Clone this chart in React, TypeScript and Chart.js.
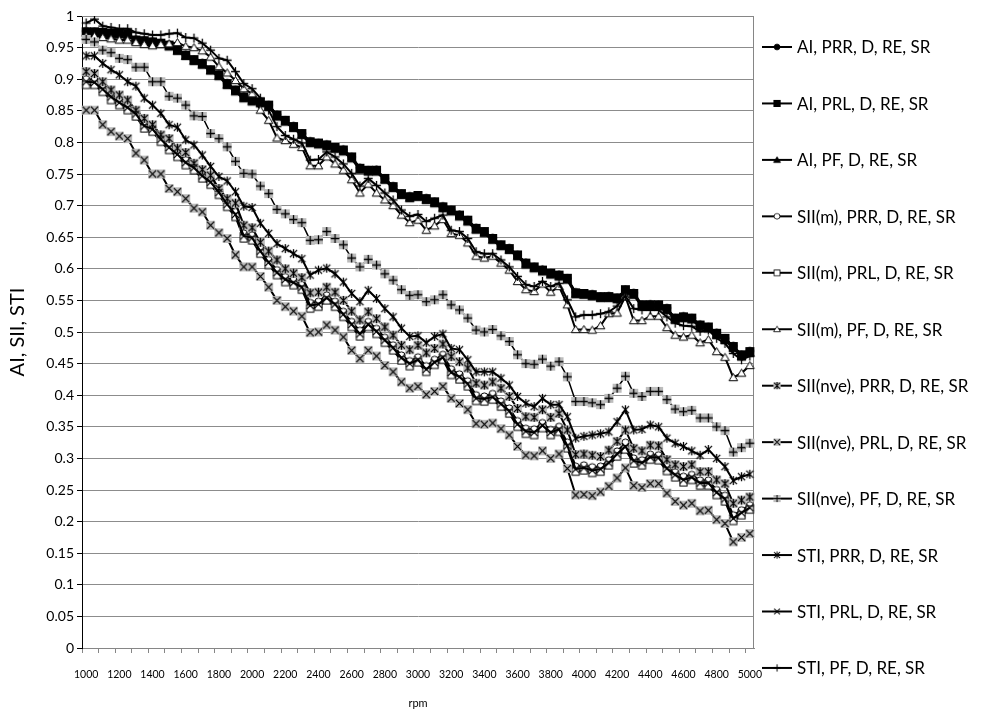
import React, { useEffect, useRef } from 'react';
import { Chart, registerables } from 'chart.js';

Chart.register(...registerables);

// ---------- data ----------
const rpm = [
  1000, 1050, 1100, 1150, 1200, 1250, 1300, 1350, 1400, 1450, 1500, 1550, 1600, 1650, 1700, 1750, 1800, 1850, 1900, 1950,
  2000, 2050, 2100, 2150, 2200, 2250, 2300, 2350, 2400, 2450, 2500, 2550, 2600, 2650, 2700, 2750, 2800, 2850, 2900, 2950,
  3000, 3050, 3100, 3150, 3200, 3250, 3300, 3350, 3400, 3450, 3500, 3550, 3600, 3650, 3700, 3750, 3800, 3850, 3900, 3950,
  4000, 4050, 4100, 4150, 4200, 4250, 4300, 4350, 4400, 4450, 4500, 4550, 4600, 4650, 4700, 4750, 4800, 4850, 4900, 4950,
  5000,
];

const xTickLabels = [
  '1000', '1200', '1400', '1600', '1800', '2000', '2200', '2400', '2600', '2800', '3000',
  '3200', '3400', '3600', '3800', '4000', '4200', '4400', '4600', '4800', '5000',
];

const yTickLabels = [
  '0', '0.05', '0.1', '0.15', '0.2', '0.25', '0.3', '0.35', '0.4', '0.45', '0.5',
  '0.55', '0.6', '0.65', '0.7', '0.75', '0.8', '0.85', '0.9', '0.95', '1',
];

const seriesNames = [
  'AI, PRR, D, RE, SR',
  'AI, PRL, D, RE, SR',
  'AI, PF, D, RE, SR',
  'SII(m), PRR, D, RE, SR',
  'SII(m), PRL, D, RE, SR',
  'SII(m), PF, D, RE, SR',
  'SII(nve), PRR, D, RE, SR',
  'SII(nve), PRL, D, RE, SR',
  'SII(nve), PF, D, RE, SR',
  'STI, PRR, D, RE, SR',
  'STI, PRL, D, RE, SR',
  'STI, PF, D, RE, SR',
];

const aiPrr = [
  0.976, 0.975, 0.975, 0.974, 0.973, 0.972, 0.963, 0.961, 0.960, 0.957, 0.955, 0.947, 0.939, 0.931, 0.926, 0.915, 0.908, 0.894, 0.883, 0.873, 0.867,
  0.865, 0.859, 0.844, 0.835, 0.826, 0.814, 0.802, 0.799, 0.797, 0.792, 0.789, 0.777, 0.760, 0.756, 0.757, 0.743, 0.731, 0.719, 0.715, 0.716,
  0.712, 0.706, 0.699, 0.693, 0.686, 0.677, 0.665, 0.659, 0.649, 0.638, 0.633, 0.622, 0.610, 0.603, 0.599, 0.593, 0.591, 0.585, 0.563, 0.561,
  0.560, 0.556, 0.557, 0.554, 0.567, 0.562, 0.543, 0.544, 0.543, 0.538, 0.522, 0.525, 0.522, 0.512, 0.508, 0.499, 0.490, 0.478, 0.464, 0.470,
];

const aiPrl = [
  0.975, 0.975, 0.974, 0.973, 0.973, 0.972, 0.962, 0.961, 0.959, 0.957, 0.954, 0.947, 0.938, 0.931, 0.925, 0.915, 0.907, 0.893, 0.883, 0.872, 0.867,
  0.864, 0.859, 0.843, 0.835, 0.825, 0.814, 0.801, 0.799, 0.796, 0.792, 0.788, 0.777, 0.759, 0.756, 0.756, 0.743, 0.730, 0.719, 0.714, 0.716,
  0.711, 0.706, 0.698, 0.693, 0.685, 0.677, 0.664, 0.659, 0.648, 0.638, 0.632, 0.622, 0.609, 0.603, 0.598, 0.593, 0.590, 0.585, 0.562, 0.561,
  0.559, 0.556, 0.556, 0.554, 0.567, 0.561, 0.543, 0.543, 0.543, 0.537, 0.522, 0.524, 0.522, 0.511, 0.508, 0.498, 0.490, 0.477, 0.464, 0.469,
];

const aiPf = [
  0.973, 0.972, 0.972, 0.970, 0.970, 0.969, 0.960, 0.958, 0.956, 0.955, 0.951, 0.944, 0.936, 0.928, 0.922, 0.913, 0.904, 0.890, 0.880, 0.869, 0.864,
  0.861, 0.856, 0.840, 0.832, 0.822, 0.811, 0.798, 0.796, 0.793, 0.789, 0.785, 0.774, 0.756, 0.753, 0.753, 0.740, 0.727, 0.716, 0.711, 0.713,
  0.708, 0.703, 0.695, 0.690, 0.682, 0.674, 0.661, 0.656, 0.645, 0.635, 0.629, 0.619, 0.606, 0.600, 0.595, 0.590, 0.587, 0.582, 0.559, 0.558,
  0.556, 0.553, 0.553, 0.551, 0.564, 0.558, 0.540, 0.540, 0.540, 0.534, 0.519, 0.521, 0.519, 0.508, 0.505, 0.495, 0.487, 0.474, 0.461, 0.466,
];

const siiMPrr = [
  0.900, 0.899, 0.889, 0.876, 0.867, 0.859, 0.848, 0.830, 0.824, 0.808, 0.796, 0.784, 0.772, 0.763, 0.751, 0.740, 0.724, 0.706, 0.690, 0.656, 0.653,
  0.632, 0.614, 0.598, 0.587, 0.582, 0.575, 0.546, 0.548, 0.558, 0.548, 0.532, 0.516, 0.502, 0.516, 0.505, 0.491, 0.479, 0.463, 0.454, 0.460,
  0.446, 0.456, 0.464, 0.441, 0.433, 0.422, 0.400, 0.398, 0.402, 0.390, 0.379, 0.359, 0.347, 0.346, 0.356, 0.345, 0.350, 0.325, 0.287, 0.289,
  0.286, 0.287, 0.297, 0.311, 0.325, 0.300, 0.297, 0.306, 0.305, 0.287, 0.278, 0.271, 0.274, 0.265, 0.265, 0.250, 0.241, 0.210, 0.218, 0.226,
];

const siiMPrl = [
  0.891, 0.891, 0.880, 0.867, 0.859, 0.851, 0.841, 0.822, 0.817, 0.801, 0.788, 0.777, 0.764, 0.756, 0.743, 0.733, 0.717, 0.698, 0.682, 0.648, 0.645,
  0.624, 0.606, 0.590, 0.579, 0.574, 0.567, 0.537, 0.540, 0.550, 0.540, 0.524, 0.508, 0.493, 0.508, 0.497, 0.483, 0.471, 0.455, 0.446, 0.452,
  0.437, 0.448, 0.456, 0.432, 0.425, 0.414, 0.391, 0.390, 0.393, 0.382, 0.371, 0.350, 0.339, 0.337, 0.348, 0.337, 0.342, 0.316, 0.279, 0.281,
  0.277, 0.279, 0.289, 0.303, 0.314, 0.292, 0.289, 0.298, 0.297, 0.280, 0.270, 0.262, 0.266, 0.257, 0.257, 0.242, 0.232, 0.201, 0.210, 0.219,
];

const siiMPf = [
  0.968, 0.968, 0.966, 0.964, 0.962, 0.962, 0.958, 0.955, 0.953, 0.955, 0.956, 0.958, 0.952, 0.950, 0.945, 0.935, 0.920, 0.910, 0.898, 0.885, 0.877,
  0.851, 0.835, 0.807, 0.803, 0.797, 0.792, 0.763, 0.763, 0.777, 0.766, 0.756, 0.741, 0.720, 0.734, 0.720, 0.709, 0.700, 0.685, 0.673, 0.677,
  0.661, 0.668, 0.678, 0.656, 0.653, 0.641, 0.620, 0.617, 0.620, 0.609, 0.598, 0.580, 0.567, 0.564, 0.576, 0.563, 0.572, 0.543, 0.504, 0.504,
  0.503, 0.510, 0.529, 0.530, 0.556, 0.518, 0.518, 0.525, 0.525, 0.507, 0.495, 0.492, 0.495, 0.483, 0.488, 0.469, 0.460, 0.428, 0.435, 0.447,
];

const siiNvePrr = [
  0.912, 0.909, 0.896, 0.883, 0.875, 0.867, 0.851, 0.838, 0.828, 0.812, 0.806, 0.791, 0.784, 0.767, 0.757, 0.748, 0.727, 0.711, 0.704, 0.669, 0.665,
  0.642, 0.628, 0.614, 0.600, 0.593, 0.586, 0.562, 0.563, 0.571, 0.563, 0.550, 0.533, 0.519, 0.532, 0.521, 0.508, 0.495, 0.479, 0.472, 0.479,
  0.467, 0.474, 0.481, 0.461, 0.453, 0.443, 0.419, 0.416, 0.421, 0.411, 0.398, 0.379, 0.366, 0.365, 0.377, 0.365, 0.371, 0.345, 0.306, 0.307,
  0.305, 0.303, 0.313, 0.327, 0.345, 0.316, 0.312, 0.321, 0.320, 0.298, 0.290, 0.287, 0.290, 0.279, 0.279, 0.266, 0.260, 0.229, 0.234, 0.239,
];

const siiNvePrl = [
  0.851, 0.851, 0.828, 0.817, 0.810, 0.806, 0.783, 0.772, 0.750, 0.750, 0.727, 0.722, 0.711, 0.696, 0.690, 0.669, 0.657, 0.648, 0.622, 0.603, 0.603,
  0.588, 0.571, 0.550, 0.540, 0.533, 0.525, 0.499, 0.500, 0.511, 0.503, 0.492, 0.471, 0.458, 0.471, 0.462, 0.447, 0.437, 0.421, 0.411, 0.414,
  0.401, 0.406, 0.414, 0.395, 0.387, 0.377, 0.355, 0.354, 0.356, 0.347, 0.337, 0.319, 0.305, 0.304, 0.312, 0.300, 0.307, 0.284, 0.242, 0.243,
  0.241, 0.247, 0.256, 0.269, 0.285, 0.257, 0.254, 0.260, 0.260, 0.245, 0.232, 0.226, 0.229, 0.217, 0.218, 0.203, 0.197, 0.168, 0.175, 0.181,
];

const siiNvePf = [
  0.963, 0.959, 0.946, 0.942, 0.933, 0.931, 0.919, 0.919, 0.896, 0.896, 0.873, 0.870, 0.859, 0.842, 0.841, 0.814, 0.806, 0.793, 0.770, 0.751, 0.750,
  0.731, 0.719, 0.694, 0.687, 0.678, 0.673, 0.645, 0.646, 0.659, 0.648, 0.638, 0.617, 0.603, 0.615, 0.606, 0.592, 0.582, 0.567, 0.558, 0.559,
  0.548, 0.551, 0.559, 0.543, 0.535, 0.522, 0.503, 0.500, 0.504, 0.494, 0.485, 0.464, 0.450, 0.449, 0.457, 0.446, 0.453, 0.429, 0.390, 0.390,
  0.388, 0.385, 0.395, 0.411, 0.430, 0.403, 0.398, 0.406, 0.406, 0.393, 0.378, 0.374, 0.376, 0.364, 0.364, 0.350, 0.344, 0.310, 0.317, 0.324,
];

const stiPrr = [
  0.937, 0.937, 0.925, 0.915, 0.907, 0.896, 0.889, 0.870, 0.859, 0.846, 0.828, 0.824, 0.804, 0.796, 0.780, 0.762, 0.746, 0.739, 0.722, 0.699, 0.697,
  0.672, 0.656, 0.640, 0.632, 0.624, 0.616, 0.590, 0.598, 0.601, 0.592, 0.579, 0.561, 0.548, 0.566, 0.553, 0.537, 0.524, 0.506, 0.493, 0.494,
  0.483, 0.493, 0.497, 0.474, 0.472, 0.456, 0.437, 0.437, 0.437, 0.427, 0.416, 0.398, 0.387, 0.382, 0.395, 0.385, 0.385, 0.366, 0.332, 0.335,
  0.337, 0.339, 0.342, 0.358, 0.377, 0.345, 0.346, 0.353, 0.350, 0.332, 0.324, 0.319, 0.312, 0.305, 0.314, 0.300, 0.287, 0.265, 0.271, 0.275,
];

const stiPrl = [
  0.896, 0.895, 0.884, 0.872, 0.863, 0.855, 0.845, 0.826, 0.821, 0.805, 0.792, 0.781, 0.768, 0.760, 0.747, 0.737, 0.721, 0.702, 0.686, 0.652, 0.649,
  0.628, 0.610, 0.594, 0.583, 0.578, 0.571, 0.542, 0.544, 0.554, 0.544, 0.528, 0.512, 0.497, 0.512, 0.501, 0.487, 0.475, 0.459, 0.450, 0.456,
  0.441, 0.452, 0.460, 0.436, 0.429, 0.418, 0.395, 0.394, 0.397, 0.386, 0.375, 0.354, 0.343, 0.341, 0.352, 0.341, 0.346, 0.320, 0.283, 0.285,
  0.281, 0.283, 0.293, 0.307, 0.319, 0.296, 0.293, 0.302, 0.301, 0.284, 0.274, 0.266, 0.270, 0.261, 0.261, 0.246, 0.236, 0.205, 0.214, 0.222,
];

const stiPf = [
  0.989, 0.995, 0.984, 0.982, 0.980, 0.980, 0.974, 0.972, 0.970, 0.970, 0.972, 0.973, 0.966, 0.965, 0.957, 0.946, 0.933, 0.930, 0.912, 0.893, 0.885,
  0.870, 0.851, 0.825, 0.811, 0.805, 0.799, 0.772, 0.773, 0.785, 0.777, 0.766, 0.751, 0.731, 0.743, 0.732, 0.720, 0.709, 0.693, 0.683, 0.686,
  0.675, 0.680, 0.685, 0.661, 0.659, 0.648, 0.627, 0.624, 0.624, 0.614, 0.603, 0.588, 0.575, 0.572, 0.580, 0.572, 0.577, 0.551, 0.524, 0.527,
  0.527, 0.529, 0.532, 0.541, 0.557, 0.537, 0.535, 0.535, 0.535, 0.524, 0.514, 0.510, 0.509, 0.501, 0.503, 0.490, 0.482, 0.466, 0.456, 0.462,
];

const seriesValues = [
  aiPrr, aiPrl, aiPf, siiMPrr, siiMPrl, siiMPf,
  siiNvePrr, siiNvePrl, siiNvePf, stiPrr, stiPrl, stiPf,
];

// marker kind and fill for each series (style, not data)
const markerKinds = ['circle', 'square', 'triangle', 'circle', 'square', 'triangle', 'star', 'x', 'plus', 'star', 'x', 'plus'];
const markerFills = ['black', 'black', 'black', 'white', 'white', 'white', 'gray', 'gray', 'gray', 'none', 'none', 'none'];

const FONT = 'Lato';
const GRAY_FILL = '#bdbdbd';

function makeMarker(kind: string, fill: string): HTMLCanvasElement {
  const s = 13;
  const c = document.createElement('canvas');
  c.width = s;
  c.height = s;
  const g = c.getContext('2d') as CanvasRenderingContext2D;
  const m = s / 2;
  g.strokeStyle = '#000';
  g.lineWidth = 1;
  if (kind === 'circle') {
    g.beginPath();
    g.arc(m, m, 3.6, 0, Math.PI * 2);
    g.fillStyle = fill === 'black' ? '#000' : '#fff';
    g.fill();
    g.stroke();
  } else if (kind === 'square') {
    const h = fill === 'black' ? 4 : 3.6;
    g.fillStyle = fill === 'black' ? '#000' : '#fff';
    g.fillRect(m - h, m - h, 2 * h, 2 * h);
    g.strokeRect(m - h, m - h, 2 * h, 2 * h);
  } else if (kind === 'triangle') {
    g.beginPath();
    g.moveTo(m, m - 4);
    g.lineTo(m + 4.3, m + 3.2);
    g.lineTo(m - 4.3, m + 3.2);
    g.closePath();
    g.fillStyle = fill === 'black' ? '#000' : '#fff';
    g.fill();
    g.stroke();
  } else {
    if (fill === 'gray') {
      g.fillStyle = GRAY_FILL;
      g.fillRect(m - 4.5, m - 4.5, 9, 9);
    }
    g.lineWidth = 1.3;
    const r = 3.6;
    g.beginPath();
    if (kind === 'x' || kind === 'star') {
      g.moveTo(m - r, m - r);
      g.lineTo(m + r, m + r);
      g.moveTo(m + r, m - r);
      g.lineTo(m - r, m + r);
    }
    if (kind === 'star' || kind === 'plus') {
      g.moveTo(m, m - r - 0.8);
      g.lineTo(m, m + r + 0.8);
    }
    if (kind === 'plus') {
      g.moveTo(m - r - 0.8, m);
      g.lineTo(m + r + 0.8, m);
    }
    g.stroke();
  }
  return c;
}

// layout constants
const CHART_LEFT = 82;
const CHART_TOP = 16;
const CHART_RIGHT = 754;
const CHART_BOTTOM = 648;
const LEGEND_LINE_X0 = 762;
const LEGEND_LINE_X1 = 792;
const LEGEND_TEXT_X = 797;
const LEGEND_Y0 = 47;
const LEGEND_STEP = 56.45;

export default function App() {
  const canvasRef = useRef<HTMLCanvasElement | null>(null);

  useEffect(() => {
    const canvas = canvasRef.current;
    if (!canvas) return;
    const markers = markerKinds.map((k, i) => makeMarker(k, markerFills[i]));

    const plotBorder = {
      id: 'plotBorder',
      beforeDatasetsDraw(chart: any) {
        const { ctx, chartArea } = chart;
        ctx.save();
        ctx.strokeStyle = '#868686';
        ctx.lineWidth = 1;
        ctx.beginPath();
        ctx.moveTo(chartArea.left, chartArea.top + 0.5);
        ctx.lineTo(chartArea.right - 0.5, chartArea.top + 0.5);
        ctx.lineTo(chartArea.right - 0.5, chartArea.bottom);
        ctx.stroke();
        ctx.restore();
      },
    };

    const excelLegend = {
      id: 'excelLegend',
      afterDraw(chart: any) {
        const ctx = chart.ctx as CanvasRenderingContext2D;
        ctx.save();
        ctx.font = `17px ${FONT}`;
        ctx.textBaseline = 'middle';
        ctx.textAlign = 'left';
        ctx.fillStyle = '#000';
        chart.data.datasets.forEach((ds: any, i: number) => {
          const y = LEGEND_Y0 + i * LEGEND_STEP;
          ctx.strokeStyle = '#000';
          ctx.lineWidth = 2;
          ctx.beginPath();
          ctx.moveTo(LEGEND_LINE_X0, y);
          ctx.lineTo(LEGEND_LINE_X1, y);
          ctx.stroke();
          const mk = markers[i];
          const sc = 0.8;
          const cx = (LEGEND_LINE_X0 + LEGEND_LINE_X1) / 2;
          ctx.drawImage(mk, cx - (mk.width * sc) / 2, y - (mk.height * sc) / 2, mk.width * sc, mk.height * sc);
          ctx.fillText(ds.label, LEGEND_TEXT_X, y + 1);
        });
        ctx.restore();
      },
    };

    const chart = new Chart(canvas, {
      type: 'line',
      data: {
        labels: rpm.map(String),
        datasets: seriesNames.map((name, i) => ({
          label: name,
          data: seriesValues[i],
          borderColor: '#000',
          backgroundColor: '#000',
          borderWidth: i === 8 ? 1.5 : 2,
          pointStyle: markers[i] as any,
          pointRadius: 4,
          pointHoverRadius: 4,
          tension: 0,
          fill: false,
          order: seriesNames.length - i,
        })),
      },
      options: {
        responsive: false,
        animation: false,
        devicePixelRatio: 1,
        layout: {
          padding: { left: 0, top: CHART_TOP, right: 1000 - CHART_RIGHT, bottom: 0 },
        },
        plugins: {
          legend: { display: false },
          tooltip: { enabled: false },
        },
        scales: {
          x: {
            type: 'category',
            offset: true,
            grid: {
              offset: true,
              drawOnChartArea: false,
              drawTicks: true,
              tickLength: 5,
              tickColor: (ctx: any) => (ctx.index !== undefined && ctx.index % 2 === 0 ? '#868686' : 'rgba(0,0,0,0)'),
            },
            border: { color: '#868686', width: 1 },
            ticks: {
              autoSkip: false,
              maxRotation: 0,
              minRotation: 0,
              padding: 15,
              color: '#000',
              font: { family: FONT, size: 10.5 },
              callback: (_v: any, index: number) => {
                const lab = String(rpm[index]);
                return xTickLabels.includes(lab) ? lab : '';
              },
            },
            title: {
              display: true,
              text: 'rpm',
              color: '#000',
              font: { family: FONT, size: 11 },
              padding: { top: 0, bottom: 3 },
            },
            afterFit: (scale: any) => {
              scale.height = 713 - CHART_BOTTOM;
            },
          },
          y: {
            min: 0,
            max: 1,
            grid: {
              color: '#8c8c8c',
              lineWidth: 1,
              drawTicks: true,
              tickLength: 5,
              tickColor: '#000',
            },
            border: { color: '#000', width: 1 },
            ticks: {
              stepSize: 0.05,
              padding: 3,
              color: '#000',
              font: { family: FONT, size: 14 },
              callback: (_v: any, index: number) => yTickLabels[index],
            },
            title: {
              display: true,
              text: 'AI, SII, STI',
              color: '#000',
              font: { family: FONT, size: 20 },
              padding: { top: 6, bottom: 0 },
            },
            afterFit: (scale: any) => {
              scale.width = CHART_LEFT;
            },
          },
        },
      } as any,
      plugins: [plotBorder, excelLegend],
    });

    return () => chart.destroy();
  }, []);

  return (
    <div style={{ position: 'fixed', left: 0, top: 0, width: 1000, height: 713, background: '#fff' }}>
      <canvas ref={canvasRef} width={1000} height={713} style={{ width: 1000, height: 713, display: 'block' }} />
    </div>
  );
}
